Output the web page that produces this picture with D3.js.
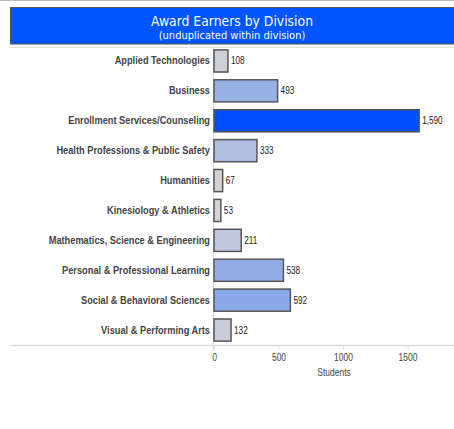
<!DOCTYPE html>
<html><head><meta charset="utf-8">
<script src="https://cdn.jsdelivr.net/npm/d3@7"></script>
<style>body{margin:0;background:#fff;}</style>
</head><body>
<svg id="c" width="454" height="429"></svg>
<script>
const categories = ["Applied Technologies","Business","Enrollment Services/Counseling","Health Professions & Public Safety","Humanities","Kinesiology & Athletics","Mathematics, Science & Engineering","Personal & Professional Learning","Social & Behavioral Sciences","Visual & Performing Arts"];
const students = [108,493,1590,333,67,53,211,538,592,132];
const xTicks = [0,500,1000,1500];
const titleText = "Award Earners by Division";
const subtitleText = "(unduplicated within division)";
const xAxisTitle = "Students";

(function(){
const data = categories.map((c,i)=>({cat:c,v:students[i]}));
const svg = d3.select("#c");
const W=454, pLeft=214, pTop=46, pBottom=345;
const labelFont = "'Liberation Sans',Arial,sans-serif";

svg.append("line").attr("x1",0).attr("x2",W).attr("y1",0.5).attr("y2",0.5).attr("stroke","#bbb");
svg.append("rect").attr("x",10.5).attr("y",7.5).attr("width",W).attr("height",36.5).attr("fill","#0055ff").attr("stroke","#555");
svg.append("text").attr("x",232).attr("y",25.5).attr("text-anchor","middle").attr("fill","#fff")
  .attr("font-family","'DejaVu Sans Condensed','DejaVu Sans',sans-serif").attr("font-size",13.8).text(titleText);
svg.append("text").attr("x",232).attr("y",38.5).attr("text-anchor","middle").attr("fill","#fff")
  .attr("font-family","'DejaVu Sans Condensed','DejaVu Sans',sans-serif").attr("font-size",11).text(subtitleText);
svg.append("line").attr("x1",10).attr("x2",W).attr("y1",47.5).attr("y2",47.5).attr("stroke","#ddd");

const x = d3.scaleLinear().domain([0,1860]).range([pLeft,W]);
const y = d3.scaleBand().domain(categories).range([pTop,pBottom]).paddingInner(0.26).paddingOuter(0.13);
const maxV = d3.max(students);
const col = d3.scaleLinear().domain([50,600]).range(["#d4d4d8","#8aa8e8"]).clamp(true);

const ax = svg.append("g").attr("transform",`translate(0,${pBottom})`)
  .call(d3.axisBottom(x).tickValues(xTicks).tickSize(4).tickFormat(d3.format("d")));
ax.select(".domain").remove();
ax.selectAll(".tick line").attr("stroke","#ddd");
ax.selectAll(".tick text").attr("font-family",labelFont).attr("font-size",10).attr("fill","#444").attr("dy","0.9em")
  .attr("transform","scale(0.85,1)");
svg.append("line").attr("x1",10).attr("x2",W).attr("y1",pBottom+0.5).attr("y2",pBottom+0.5).attr("stroke","#ddd").attr("stroke-width",1.5);
svg.append("line").attr("x1",pLeft-0.5).attr("x2",pLeft-0.5).attr("y1",pTop+2).attr("y2",pBottom+6).attr("stroke","#ddd");

svg.append("text").attr("text-anchor","middle")
  .attr("transform",`translate(${(pLeft+W)/2},376) scale(0.85,1)`)
  .attr("font-family",labelFont).attr("font-size",10).attr("fill","#444").text(xAxisTitle);

svg.selectAll("rect.bar").data(data).join("rect").attr("class","bar")
  .attr("x",x(0)).attr("y",d=>y(d.cat)).attr("width",d=>x(d.v)-x(0)).attr("height",y.bandwidth())
  .attr("fill",d=>d.v===maxV?"#0050ff":col(d.v)).attr("stroke","#555").attr("stroke-width",1.5);

svg.selectAll("text.val").data(data).join("text").attr("class","val")
  .attr("transform",d=>`translate(${x(d.v)+3},${y(d.cat)+y.bandwidth()/2}) scale(0.82,1)`).attr("dy","0.35em")
  .attr("font-family",labelFont).attr("font-size",10).attr("fill","#222").text(d=>d3.format(",")(d.v));

svg.selectAll("text.cat").data(data).join("text").attr("class","cat")
  .attr("transform",d=>`translate(${pLeft-4},${y(d.cat)+y.bandwidth()/2}) scale(0.925,1)`).attr("dy","0.35em").attr("text-anchor","end")
  .attr("font-family",labelFont).attr("font-weight","bold").attr("font-size",10).attr("fill","#444").text(d=>d.cat);
})();
</script>
</body></html>
